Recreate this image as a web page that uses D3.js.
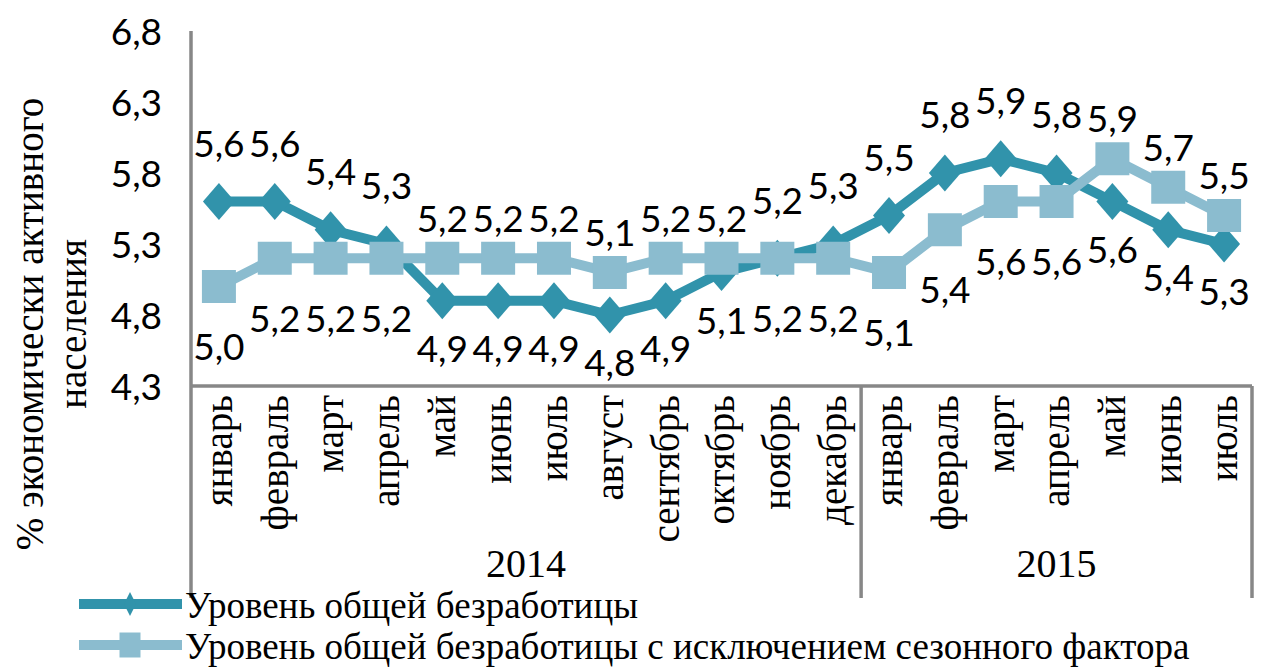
<!DOCTYPE html>
<html>
<head>
<meta charset="utf-8">
<script src="https://cdn.jsdelivr.net/npm/d3@7"></script>
<style>
  html, body { margin: 0; padding: 0; background: #fff; }
  svg { display: block; }
</style>
</head>
<body>
<svg id="chart" width="1268" height="667"></svg>
<script>
// ---- data ----
const categories = ["январь","февраль","март","апрель","май","июнь","июль","август","сентябрь","октябрь","ноябрь","декабрь",
                    "январь","февраль","март","апрель","май","июнь","июль"];
const years = ["2014", "2015"];
const yearMonthCounts = [12, 7];
const seriesNames = ["Уровень общей безработицы", "Уровень общей безработицы с исключением сезонного фактора"];
const unemployment   = [5.6,5.6,5.4,5.3,4.9,4.9,4.9,4.8,4.9,5.1,5.2,5.3,5.5,5.8,5.9,5.8,5.6,5.4,5.3];
const unemploymentSA = [5.0,5.2,5.2,5.2,5.2,5.2,5.2,5.1,5.2,5.2,5.2,5.2,5.1,5.4,5.6,5.6,5.9,5.7,5.5];
const yTicks = [4.3, 4.8, 5.3, 5.8, 6.3, 6.8];
const yTitleLines = ["% экономически активного", "населения"];

(function () {
// ---- style ----
const darkColor = "#3193ab";
const lightColor = "#8bbccf";
const axisColor = "#878787";
const serif = "'Liberation Serif', 'Times New Roman', serif";
const numFont = "Lato, 'Liberation Sans', sans-serif";

const svg = d3.select("#chart");
svg.append("rect").attr("width", 1268).attr("height", 667).attr("fill", "#fff");

const pLeft = 191, pRight = 1252, pTop = 31, pBottom = 386, groupBottom = 598;

const x = d3.scaleBand().domain(d3.range(categories.length)).range([pLeft, pRight]).paddingInner(0).paddingOuter(0);
const cx = i => x(i) + x.bandwidth() / 2;
const y = d3.scaleLinear().domain([4.3, 6.8]).range([pBottom, pTop]);

const ru = d3.formatLocale({decimal: ",", thousands: " ", grouping: [3], currency: ["", ""]});
const fmt = ru.format(".1f");

// y axis
const yAxis = d3.axisLeft(y).tickValues(yTicks).tickSize(0).tickPadding(29).tickFormat(fmt);
const gy = svg.append("g").attr("transform", `translate(${pLeft},0)`).call(yAxis);
gy.select(".domain").remove();
gy.selectAll("text").attr("font-family", numFont).attr("font-size", 37).attr("fill", "#000").attr("dy", "0.36em");

// axis lines
const lines = svg.append("g").attr("stroke", axisColor).attr("stroke-width", 3.5).attr("fill", "none");
lines.append("line").attr("x1", pLeft).attr("x2", pLeft).attr("y1", pTop).attr("y2", groupBottom);
lines.append("line").attr("x1", pLeft).attr("x2", pRight).attr("y1", pBottom).attr("y2", pBottom);
// group separators
let acc = 0;
const groupBounds = [];
yearMonthCounts.forEach((n) => {
  const x0 = x(acc);
  const x1 = acc + n < categories.length ? x(acc + n) : pRight;
  groupBounds.push([x0, x1]);
  acc += n;
  lines.append("line").attr("x1", x1).attr("x2", x1).attr("y1", pBottom).attr("y2", groupBottom);
});

// category labels
svg.append("g").selectAll("text").data(categories).join("text")
  .attr("transform", (d, i) => `translate(${cx(i)},395) rotate(-90)`)
  .attr("text-anchor", "end")
  .attr("dy", "0.33em")
  .attr("font-family", serif)
  .attr("font-size", 39)
  .attr("fill", "#000")
  .text(d => d);

// year labels
svg.append("g").selectAll("text").data(years).join("text")
  .attr("x", (d, i) => (groupBounds[i][0] + groupBounds[i][1]) / 2)
  .attr("y", 577)
  .attr("text-anchor", "middle")
  .attr("font-family", serif)
  .attr("font-size", 40)
  .attr("fill", "#000")
  .text(d => d);

// y title
yTitleLines.forEach((t, i) => {
  svg.append("text")
    .attr("transform", `translate(${43 + i * 43},324) rotate(-90)`)
    .attr("text-anchor", "middle")
    .attr("font-family", serif)
    .attr("font-size", 39)
    .attr("fill", "#000")
    .text(t);
});

// shapes
const diamondPath = (w, h) => `M0,${-h/2}L${w/2},0L0,${h/2}L${-w/2},0Z`;
const squarePath = (w, h) => `M${-w/2},${-h/2}h${w}v${h}h${-w}Z`;

const line = d3.line().x((d, i) => cx(i)).y(d => y(d));

const series = [
  {values: unemployment, color: darkColor, shape: diamondPath(32, 37), other: unemploymentSA, up: -58, down: 48},
  {values: unemploymentSA, color: lightColor, shape: squarePath(34, 33), other: unemployment, up: -40, down: 60}
];

series.forEach((s) => {
  const g = svg.append("g");
  g.append("path").datum(s.values).attr("d", line)
    .attr("fill", "none").attr("stroke", s.color).attr("stroke-width", 10).attr("stroke-linejoin", "round");
  g.selectAll("path.m").data(s.values).join("path").attr("class", "m")
    .attr("d", s.shape)
    .attr("transform", (d, i) => `translate(${cx(i)},${y(d)})`)
    .attr("fill", s.color);
});

// data labels
series.forEach((s, si) => {
  svg.append("g").selectAll("text").data(s.values).join("text")
    .attr("x", (d, i) => cx(i))
    .attr("y", (d, i) => {
      const o = s.other[i];
      const above = d > o || (d === o && si === 0);
      return y(d) + (above ? s.up : s.down);
    })
    .attr("dy", "0.36em")
    .attr("text-anchor", "middle")
    .attr("font-family", numFont)
    .attr("font-size", 37)
    .attr("fill", "#000")
    .text(d => fmt(d));
});

// legend
const legendRows = [
  {name: seriesNames[0], color: darkColor, shape: diamondPath(12, 24), y: 604},
  {name: seriesNames[1], color: lightColor, shape: squarePath(21, 25), y: 645}
];
const lg = svg.append("g");
legendRows.forEach(r => {
  lg.append("line").attr("x1", 79).attr("x2", 182).attr("y1", r.y).attr("y2", r.y)
    .attr("stroke", r.color).attr("stroke-width", 10);
  lg.append("path").attr("d", r.shape).attr("transform", `translate(130,${r.y})`).attr("fill", r.color);
  lg.append("text").attr("x", 185).attr("y", r.y + 14)
    .attr("font-family", serif).attr("font-size", 37).attr("fill", "#000").text(r.name);
});
})();
</script>
</body>
</html>
